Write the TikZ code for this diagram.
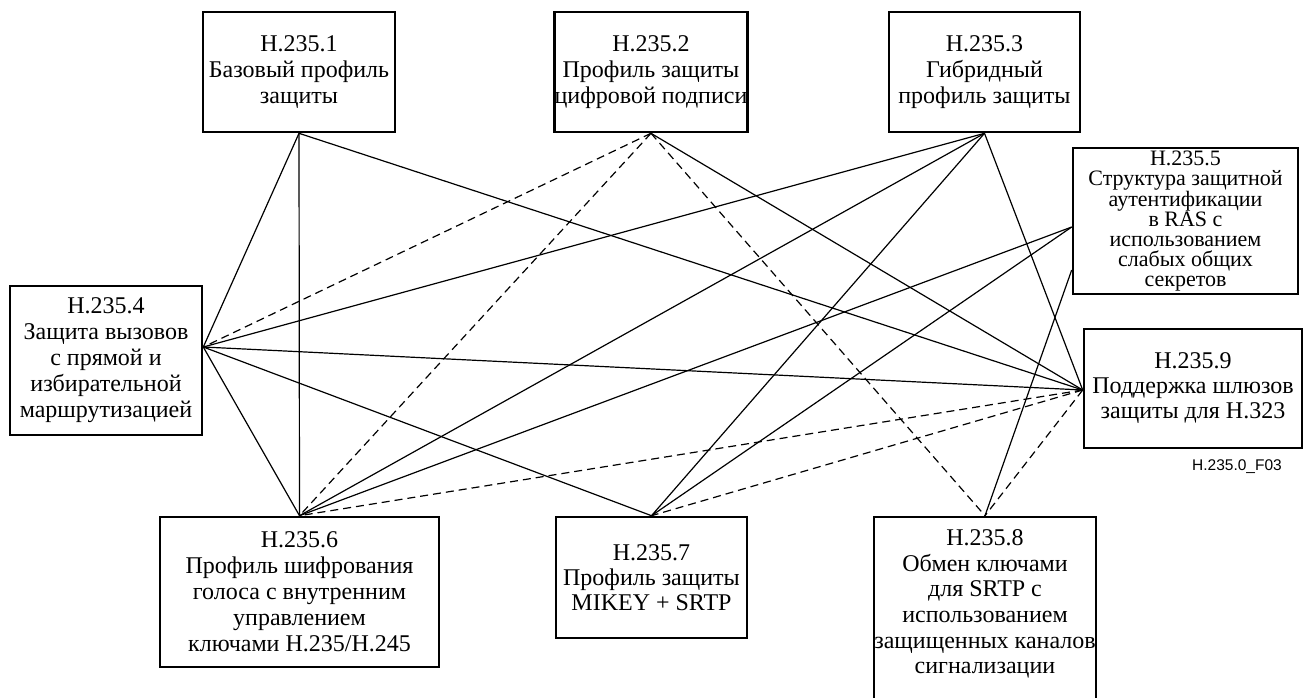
\documentclass[tikz,border=0pt]{standalone}
\usepackage{fontspec}
\setmainfont{Liberation Serif}
\newfontfamily\labelsans{Liberation Sans}
\begin{document}
\begin{tikzpicture}[x=1pt,y=-1pt,
  box/.style={draw, line width=2.6pt, fill=white, align=center, inner sep=0pt},
  txt/.style={align=center, inner sep=0pt},
  link/.style={line width=1.2pt},
  dlink/.style={line width=1.2pt, dash pattern=on 8pt off 5pt},
  fA/.style={font=\fontsize{24}{26}\selectfont},
  fB/.style={font=\fontsize{24}{26}\selectfont},
  fC/.style={font=\fontsize{22}{20}\selectfont},
  fD/.style={font=\fontsize{24}{25}\selectfont}]
\useasboundingbox (0,0) rectangle (1304,697);

% boxes
\node[box, fA, minimum width=192pt, minimum height=120pt] (b1) at (299,72)
  {H.235.1\\Базовый профиль\\защиты};
\node[box, fA, minimum width=188pt, minimum height=120pt] (b2) at (651,72)
  {H.235.2\\Профиль защиты\\цифровой подписи};
\node[box, fA, minimum width=191pt, minimum height=120pt] (b3) at (984.5,72)
  {H.235.3\\Гибридный\\профиль защиты};
\node[box, fB, minimum width=192pt, minimum height=149pt] (b4) at (106,360.5)
  {H.235.4\\Защита вызовов\\с прямой и\\избирательной\\маршрутизацией};
\node[box, fC, minimum width=225pt, minimum height=146pt] (b5) at (1185.5,221)
  {H.235.5\\Структура защитной\\аутентификации\\в RAS с\\использованием\\слабых общих\\секретов};
\node[box, fD, minimum width=218pt, minimum height=119pt] (b9) at (1193,388.5)
  {H.235.9\\Поддержка шлюзов\\защиты для H.323};
\node[box, fB, minimum width=279pt, minimum height=150pt] (b6) at (299.5,592)
  {H.235.6\\Профиль шифрования\\голоса с внутренним\\управлением\\ключами H.235/H.245};
\node[box, fD, minimum width=191pt, minimum height=121pt] (b7) at (651.5,577.5)
  {H.235.7\\Профиль защиты\\MIKEY + SRTP};
\node[box, minimum width=222pt, minimum height=190pt] (b8) at (985,612) {};
\node[txt, font=\fontsize{24}{25.7}\selectfont] (t8) at (985,604)
  {H.235.8\\Обмен ключами\\для SRTP с\\использованием\\защищенных каналов\\сигнализации};
\node[txt, font=\labelsans\fontsize{15.5}{16}\selectfont] (f03) at (1237,467) {H.235.0\_F03};

% connection points
\coordinate (p1) at (b1.south);
\coordinate (p2) at (b2.south);
\coordinate (p3) at (b3.south);
\coordinate (p4) at ([yshift=13.5pt]b4.east);
\coordinate (p5a) at ([yshift=-6pt]b5.west);
\coordinate (p5b) at ([yshift=-49pt]b5.west);
\coordinate (p9) at ([yshift=-1.5pt]b9.west);
\coordinate (p6) at (b6.north);
\coordinate (p7) at (b7.north);
\coordinate (p8) at (b8.north);

% solid connectors
\draw[link] (p1) -- (p4);
\draw[link] (p1) -- (p6);
\draw[link] (p1) -- (p9);
\draw[link] (p2) -- (p9);
\draw[link] (p3) -- (p4);
\draw[link] (p3) -- (p6);
\draw[link] (p3) -- (p7);
\draw[link] (p3) -- (p9);
\draw[link] (p4) -- (p9);
\draw[link] (p4) -- (p6);
\draw[link] (p4) -- (p7);
\draw[link] (p5a) -- (p6);
\draw[link] (p5a) -- (p7);
\draw[link] (p5b) -- (p8);

% dashed connectors
\draw[dlink] (p2) -- (p4);
\draw[dlink] (p2) -- (p6);
\draw[dlink] (p2) -- (p8);
\draw[dlink] (p9) -- (p6);
\draw[dlink] (p9) -- (p7);
\draw[dlink] (p9) -- (p8);
\end{tikzpicture}
\end{document}
